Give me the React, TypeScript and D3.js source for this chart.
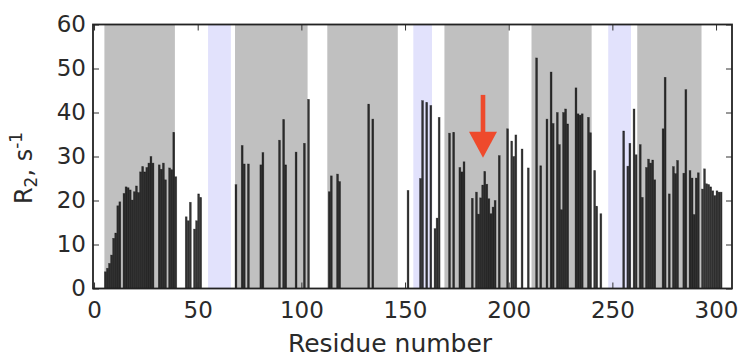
import { useEffect, useRef } from 'react';
import { select, scaleLinear, axisBottom, axisLeft, axisTop, axisRight } from 'd3';

// residue numbers with a measured R2 value
const residues = [
  5, 6, 7, 8, 9, 10, 11, 12, 14, 15, 16, 17, 18, 19, 20, 21, 22, 23, 24, 25, 26, 27, 28, 31, 32, 33, 34, 36, 37, 38, 39,
  44, 45, 46, 48, 49, 50, 51,
  68, 71, 72, 74, 80, 81, 89, 91, 92, 97, 101, 103,
  113, 114, 117, 118, 132, 134, 151,
  157, 158, 160, 162, 164, 165, 166, 171, 173, 176, 177, 178, 182, 184, 185, 186, 187, 188, 189, 190, 191, 192, 193,
  195, 199, 201, 202, 203, 206, 209,
  213, 215, 218, 220, 221, 223, 224, 225, 226, 227, 228, 232, 233, 234, 235, 238, 239, 241, 242, 244,
  255, 257, 258, 260, 261, 263, 264, 266, 267, 268, 269, 270, 274, 275, 277, 279, 280, 281, 284, 285, 287, 288, 289,
  290, 291, 293, 294, 295, 296, 297, 298, 299, 300, 301, 302,
];

const r2Values = [
  3.8, 4.6, 5.7, 7.6, 11.4, 12.6, 18.8, 19.7, 21.6, 23.1, 22.9, 22.4, 20.1, 22, 23.3, 21.8, 26.5, 27.7, 26.5, 27.5, 28.5, 30,
  28.5, 28.1, 27.1, 28.5, 24.7, 27.4, 27, 35.5, 25.4,
  16.3, 15.4, 19.6, 13.5, 15.4, 21.5, 20.7,
  23.6, 32.5, 28.3, 28.3, 28.1, 30.9, 33.7, 38.4, 28.1, 31, 33, 43,
  22, 25.6, 26, 24.3, 41.9, 38.5, 22.3,
  25, 42.7, 42.3, 41.6, 13.6, 16, 38.9, 35.3, 35.5, 27.5, 26.5, 28.8, 20.5, 21.9, 16.9, 20.6, 23.5, 26.6, 23.7, 20.4, 17,
  18.5, 20, 30.2, 36.3, 33.5, 30, 34.9, 31.7, 27.4,
  52.4, 27.9, 38.5, 49.2, 37.5, 40, 32.7, 17.9, 40, 40.8, 37.4, 45.6, 39.7, 39.4, 39.7, 38.9, 35.4, 26.8, 18.7, 17,
  35.8, 27.8, 33, 40.8, 30.4, 32.7, 20.7, 27.5, 29.4, 28.5, 29.2, 24.7, 36.3, 48, 21.5, 27.7, 26.1, 29.1, 26.2, 45.2,
  26.8, 25.1, 16.8, 25.1, 26.3, 22.6, 27.2, 23.8, 23.6, 23.1, 22.2, 21.1, 22.2, 21.9, 21.9,
];

// shaded residue ranges
const grayRegions = [
  [5, 39],
  [68, 103],
  [112.5, 146.5],
  [169, 200],
  [211, 240],
  [262, 293],
];
const blueRegions = [
  [55, 66],
  [154, 163],
  [248, 259],
];

const xTicks = [0, 50, 100, 150, 200, 250, 300];
const yTicks = [0, 10, 20, 30, 40, 50, 60];

// arrow annotation: residue, tail / head-base / tip in R2 units
const arrowResidue = 187.6;
const arrowLevels = [44, 35.6, 29.7];

const WIDTH = 745;
const HEIGHT = 357;
const FONT = "'DejaVu Sans', sans-serif";
const TEXT = '#2a2a2a';

const App = () => {
  const ref = useRef<SVGSVGElement>(null);

  useEffect(() => {
    const svg = select(ref.current);
    svg.selectAll('*').remove();

    const x = scaleLinear().domain([-0.5, 307.7]).range([93, 732]);
    const y = scaleLinear().domain([0, 60]).range([288.5, 24.5]);

    // background spans
    const drawSpans = (regions: number[][], color: string) => {
      svg
        .append('g')
        .selectAll('rect')
        .data(regions)
        .enter()
        .append('rect')
        .attr('x', (d) => x(d[0]))
        .attr('width', (d) => x(d[1]) - x(d[0]))
        .attr('y', y(60))
        .attr('height', y(0) - y(60))
        .attr('fill', color);
    };
    drawSpans(grayRegions, '#c0c0c0');
    drawSpans(blueRegions, '#e2e2fc');

    // bars (left-edge aligned, like old matplotlib)
    const barW = x(0.9) - x(0);
    svg
      .append('g')
      .selectAll('rect')
      .data(residues.map((r, i) => ({ r, v: r2Values[i] })))
      .enter()
      .append('rect')
      .attr('x', (d) => x(d.r))
      .attr('width', barW)
      .attr('y', (d) => y(d.v))
      .attr('height', (d) => y(0) - y(d.v))
      .attr('fill', '#111')
      .attr('fill-opacity', 0.85)
      .attr('stroke', '#000')
      .attr('stroke-opacity', 0.45)
      .attr('stroke-width', 0.6);

    // axes with inward ticks on all sides
    const styleAxis = (g: any) => {
      g.select('.domain').remove();
      g.selectAll('line').attr('stroke', '#333').attr('stroke-width', 1);
      g.selectAll('text').attr('font-family', FONT).attr('font-size', 23).attr('fill', TEXT);
    };
    svg
      .append('g')
      .attr('transform', `translate(0,${y(0)})`)
      .call(axisBottom(x).tickValues(xTicks).tickSize(-6).tickPadding(13).tickSizeOuter(0))
      .call(styleAxis);
    svg
      .append('g')
      .attr('transform', `translate(0,${y(60)})`)
      .call(axisTop(x).tickValues(xTicks).tickSize(-6).tickFormat(() => '').tickSizeOuter(0))
      .call(styleAxis);
    svg
      .append('g')
      .attr('transform', `translate(${x.range()[0]},0)`)
      .call(axisLeft(y).tickValues(yTicks).tickSize(-6).tickPadding(7).tickSizeOuter(0))
      .call(styleAxis);
    svg
      .append('g')
      .attr('transform', `translate(${x.range()[1]},0)`)
      .call(axisRight(y).tickValues(yTicks).tickSize(-6).tickFormat(() => '').tickSizeOuter(0))
      .call(styleAxis);

    // frame
    svg
      .append('rect')
      .attr('x', x.range()[0])
      .attr('y', y(60))
      .attr('width', x.range()[1] - x.range()[0])
      .attr('height', y(0) - y(60))
      .attr('fill', 'none')
      .attr('stroke', '#222')
      .attr('stroke-width', 1.8);

    // axis titles
    svg
      .append('text')
      .attr('x', 390)
      .attr('y', 352)
      .attr('text-anchor', 'middle')
      .attr('font-family', FONT)
      .attr('font-size', 25)
      .attr('fill', TEXT)
      .text('Residue number');

    const yLabel = svg
      .append('text')
      .attr('transform', 'translate(32,168) rotate(-90)')
      .attr('text-anchor', 'middle')
      .attr('font-family', FONT)
      .attr('font-size', 24)
      .attr('fill', TEXT);
    yLabel.append('tspan').text('R');
    yLabel.append('tspan').attr('font-size', 17).attr('dy', 5).text('2');
    yLabel.append('tspan').attr('dy', -5).text(', s');
    yLabel.append('tspan').attr('font-size', 17).attr('dy', -10).text('-1');

    // red arrow
    const ax = x(arrowResidue);
    const [tail, base, tip] = arrowLevels.map((v) => y(v));
    const arrow = svg.append('g').attr('fill', '#ee4a2c');
    arrow
      .append('rect')
      .attr('x', ax - 2.3)
      .attr('width', 4.6)
      .attr('y', tail)
      .attr('height', base - tail + 1);
    arrow
      .append('polygon')
      .attr('points', `${ax - 14},${base} ${ax + 14},${base} ${ax},${tip}`);
  }, []);

  return (
    <svg
      ref={ref}
      width={WIDTH}
      height={HEIGHT}
      style={{ position: 'absolute', left: 0, top: 0, background: 'white' }}
    />
  );
};

export default App;
